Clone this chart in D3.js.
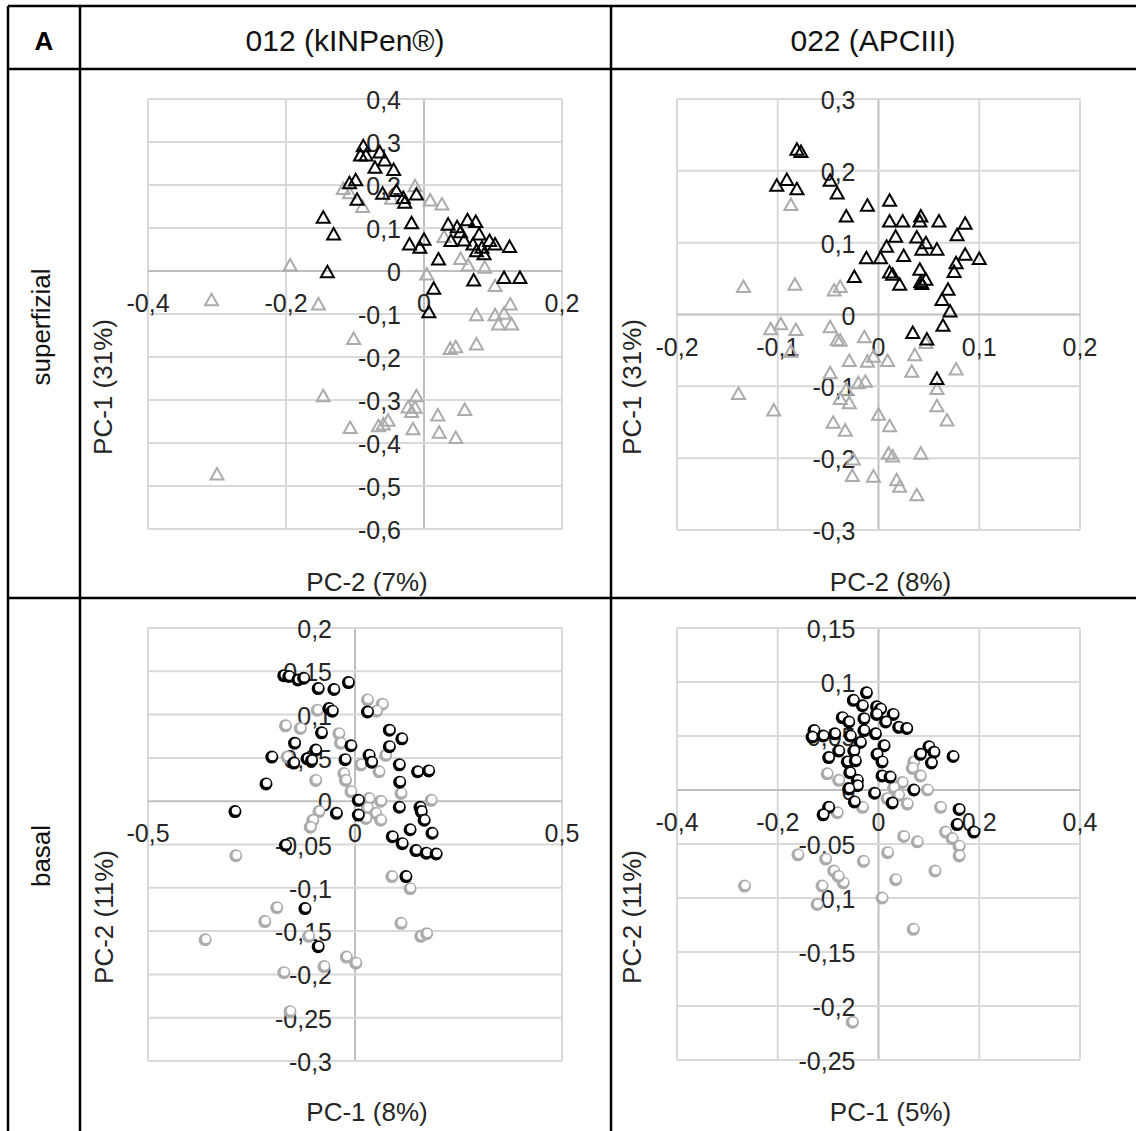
<!DOCTYPE html>
<html>
<head>
<meta charset="utf-8">
<script src="https://cdn.jsdelivr.net/npm/d3@7"></script>
<style>
  body { margin: 0; background: #fff; }
  text { font-family: "Liberation Sans", Arial, sans-serif; }
</style>
</head>
<body>
<div id="chart"></div>
<script>
// ---- data ----
// superfizial, 012 (kINPen) : [PC-2, PC-1]
const sup012Black = [[-0.088,0.291],[-0.092,0.270],[-0.084,0.270],[-0.064,0.277],[-0.057,0.258],[-0.071,0.241],[-0.044,0.236],[-0.108,0.205],[-0.099,0.212],[-0.060,0.181],[-0.040,0.187],[-0.030,0.171],[-0.028,0.160],[-0.011,0.179],[-0.097,0.167],[-0.146,0.125],[-0.131,0.086],[-0.018,0.112],[-0.021,0.063],[-0.006,0.055],[0.000,0.074],[0.021,0.028],[-0.140,-0.002],[0.035,0.109],[0.048,0.103],[0.063,0.119],[0.075,0.115],[0.053,0.091],[0.039,0.071],[0.058,0.072],[0.080,0.086],[0.071,0.063],[0.084,0.055],[0.095,0.071],[0.103,0.063],[0.076,0.047],[0.087,0.040],[0.124,0.057],[0.072,-0.021],[0.116,-0.015],[0.139,-0.015],[0.014,-0.040],[0.007,-0.095]];
const sup012Gray = [[-0.117,0.192],[-0.108,0.182],[-0.089,0.150],[-0.047,0.169],[-0.013,0.198],[0.009,0.165],[0.026,0.156],[-0.194,0.014],[-0.308,-0.067],[-0.153,-0.077],[0.004,-0.007],[0.029,0.080],[0.053,0.029],[0.064,0.014],[0.088,0.009],[0.103,-0.034],[0.125,-0.077],[0.076,-0.102],[0.103,-0.102],[0.116,-0.098],[0.108,-0.123],[0.127,-0.123],[-0.102,-0.157],[0.076,-0.170],[0.038,-0.180],[0.046,-0.176],[-0.146,-0.290],[-0.011,-0.290],[-0.023,-0.316],[-0.013,-0.317],[-0.018,-0.327],[-0.052,-0.347],[-0.059,-0.356],[-0.066,-0.360],[-0.107,-0.364],[-0.016,-0.367],[0.020,-0.335],[0.059,-0.322],[0.022,-0.375],[0.046,-0.387],[-0.300,-0.472]];

// superfizial, 022 (APCIII)
const sup022Black = [[-0.081,0.230],[-0.077,0.227],[-0.101,0.180],[-0.091,0.188],[-0.081,0.175],[-0.048,0.187],[-0.041,0.169],[-0.032,0.137],[-0.011,0.152],[0.011,0.159],[0.011,0.130],[0.024,0.130],[0.042,0.137],[0.041,0.130],[0.060,0.130],[0.086,0.127],[0.017,0.109],[0.038,0.108],[0.078,0.111],[0.008,0.095],[0.047,0.100],[0.043,0.091],[0.058,0.091],[-0.012,0.079],[0.002,0.079],[0.025,0.082],[0.086,0.084],[0.100,0.078],[0.077,0.072],[0.075,0.060],[-0.024,0.053],[0.011,0.059],[0.014,0.056],[0.021,0.042],[0.041,0.063],[0.042,0.046],[0.047,0.049],[0.043,0.043],[0.069,0.035],[0.063,0.021],[0.071,0.005],[0.064,-0.015],[0.034,-0.025],[0.048,-0.034],[0.058,-0.089]];
const sup022Gray = [[-0.087,0.153],[-0.134,0.039],[-0.083,0.042],[-0.044,0.034],[-0.038,0.039],[-0.107,-0.020],[-0.097,-0.013],[-0.082,-0.021],[-0.087,-0.051],[-0.048,-0.017],[-0.041,-0.035],[-0.038,-0.036],[-0.014,-0.031],[-0.029,-0.064],[-0.011,-0.065],[-0.005,-0.058],[0.009,-0.064],[0.036,-0.056],[0.033,-0.079],[0.047,-0.039],[0.077,-0.076],[-0.048,-0.081],[-0.020,-0.095],[-0.013,-0.093],[-0.032,-0.104],[-0.038,-0.117],[-0.029,-0.123],[-0.139,-0.110],[-0.104,-0.133],[0.058,-0.103],[0.058,-0.127],[0.068,-0.147],[0.000,-0.139],[0.011,-0.155],[-0.045,-0.150],[-0.033,-0.161],[0.010,-0.193],[0.014,-0.197],[0.042,-0.193],[-0.025,-0.201],[-0.026,-0.224],[-0.005,-0.225],[0.018,-0.230],[0.021,-0.239],[0.038,-0.251]];

// basal, 012 (kINPen) : [PC-1, PC-2]
const bas012Black = [[-0.172,0.145],[-0.160,0.144],[-0.138,0.140],[-0.124,0.142],[-0.089,0.130],[-0.051,0.129],[-0.016,0.137],[-0.063,0.107],[-0.055,0.104],[0.030,0.103],[-0.081,0.079],[0.083,0.082],[0.113,0.072],[-0.146,0.067],[-0.095,0.059],[-0.010,0.064],[0.083,0.063],[-0.201,0.051],[-0.148,0.044],[-0.116,0.049],[-0.105,0.047],[-0.024,0.048],[0.034,0.053],[0.040,0.045],[0.107,0.042],[0.151,0.034],[0.178,0.035],[0.108,0.022],[-0.215,0.020],[0.008,0.001],[0.008,-0.016],[-0.045,-0.014],[-0.290,-0.012],[0.107,-0.007],[0.157,-0.007],[0.160,-0.012],[0.167,-0.022],[0.133,-0.033],[0.186,-0.037],[0.090,-0.041],[0.114,-0.049],[0.147,-0.057],[0.172,-0.060],[0.196,-0.061],[-0.168,-0.051],[0.123,-0.087],[-0.121,-0.124],[-0.089,-0.168]];
const bas012Gray = [[0.030,0.117],[0.066,0.112],[0.052,0.104],[-0.091,0.105],[-0.168,0.087],[-0.132,0.084],[-0.039,0.078],[-0.035,0.067],[-0.164,0.051],[0.074,0.053],[-0.027,0.032],[-0.023,0.024],[0.014,0.042],[0.058,0.034],[-0.095,0.024],[-0.010,0.011],[0.034,0.003],[0.062,0.000],[0.111,0.009],[0.184,0.001],[0.030,-0.008],[0.050,-0.014],[0.062,-0.022],[0.026,-0.020],[-0.087,-0.012],[-0.102,-0.022],[-0.108,-0.030],[-0.288,-0.063],[0.089,-0.087],[0.133,-0.101],[-0.189,-0.123],[-0.218,-0.139],[-0.362,-0.160],[-0.112,-0.156],[0.111,-0.141],[0.159,-0.156],[0.173,-0.153],[-0.021,-0.180],[0.002,-0.187],[-0.172,-0.198],[-0.075,-0.191],[-0.157,-0.243]];

// basal, 022 (APCIII)
const bas022Black = [[-0.024,0.090],[-0.050,0.083],[-0.032,0.078],[-0.004,0.077],[0.004,0.075],[0.029,0.070],[-0.072,0.067],[-0.059,0.063],[-0.029,0.066],[-0.004,0.070],[0.014,0.063],[0.040,0.058],[0.056,0.057],[-0.128,0.055],[-0.132,0.049],[-0.110,0.050],[-0.087,0.052],[-0.056,0.050],[-0.029,0.055],[-0.006,0.052],[-0.036,0.044],[0.011,0.041],[-0.079,0.036],[-0.099,0.030],[-0.049,0.036],[-0.003,0.033],[0.100,0.040],[0.110,0.035],[0.083,0.033],[0.105,0.025],[0.148,0.031],[-0.062,0.026],[-0.046,0.027],[0.007,0.026],[-0.057,0.016],[0.007,0.013],[0.023,0.012],[-0.042,0.009],[-0.042,0.004],[-0.059,0.001],[0.070,0.000],[-0.008,-0.003],[-0.048,-0.011],[0.027,-0.012],[-0.099,-0.016],[-0.110,-0.023],[0.160,-0.018],[0.156,-0.032],[0.189,-0.039]];
const bas022Gray = [[0.070,0.026],[0.067,0.020],[0.083,0.013],[-0.102,0.015],[-0.079,0.009],[0.047,0.007],[0.097,0.000],[0.030,0.002],[0.040,-0.005],[0.057,-0.013],[0.017,-0.008],[-0.032,-0.016],[-0.082,-0.021],[0.123,-0.016],[0.050,-0.043],[0.077,-0.048],[0.133,-0.039],[0.146,-0.045],[0.160,-0.052],[0.160,-0.061],[-0.160,-0.060],[-0.105,-0.064],[-0.089,-0.075],[-0.030,-0.066],[0.018,-0.058],[0.112,-0.075],[0.034,-0.083],[-0.266,-0.089],[-0.112,-0.089],[-0.070,-0.086],[-0.080,-0.080],[-0.122,-0.106],[0.007,-0.100],[0.069,-0.129],[-0.052,-0.215]];

// ticks
const xTicksSup012 = [-0.4, -0.2, 0, 0.2];
const yTicksSup012 = [-0.6, -0.5, -0.4, -0.3, -0.2, -0.1, 0, 0.1, 0.2, 0.3, 0.4];
const xTicksSup022 = [-0.2, -0.1, 0, 0.1, 0.2];
const yTicksSup022 = [-0.3, -0.2, -0.1, 0, 0.1, 0.2, 0.3];
const xTicksBas012 = [-0.5, 0, 0.5];
const yTicksBas012 = [-0.3, -0.25, -0.2, -0.15, -0.1, -0.05, 0, 0.05, 0.1, 0.15, 0.2];
const xTicksBas022 = [-0.4, -0.2, 0, 0.2, 0.4];
const yTicksBas022 = [-0.25, -0.2, -0.15, -0.1, -0.05, 0, 0.05, 0.1, 0.15];

const colHeaders = ["012 (kINPen®)", "022 (APCIII)"];
const rowHeaders = ["superfizial", "basal"];

// ---- layout ----
const width = 1136, height = 1131;
const svg = d3.select("#chart").append("svg")
    .attr("width", width)
    .attr("height", height);

const fmt = v => {
  const s = String(+v.toFixed(2));
  return (s === "-0" ? "0" : s).replace(".", ",");
};

const panels = [
  { left: 148, right: 562, top: 99, bottom: 529, xd: [-0.4, 0.2], yd: [-0.6, 0.4],
    xt: xTicksSup012, yt: yTicksSup012, black: sup012Black, gray: sup012Gray, marker: "tri",
    xTitle: "PC-2 (7%)", yTitle: "PC-1 (31%)", xTitleY: 582, yTitleX: 103, yTitleY: 387 },
  { left: 677, right: 1080, top: 99, bottom: 530, xd: [-0.2, 0.2], yd: [-0.3, 0.3],
    xt: xTicksSup022, yt: yTicksSup022, black: sup022Black, gray: sup022Gray, marker: "tri",
    xTitle: "PC-2 (8%)", yTitle: "PC-1 (31%)", xTitleY: 582, yTitleX: 632, yTitleY: 387 },
  { left: 148, right: 562, top: 628, bottom: 1061, xd: [-0.5, 0.5], yd: [-0.3, 0.2],
    xt: xTicksBas012, yt: yTicksBas012, black: bas012Black, gray: bas012Gray, marker: "circ",
    xTitle: "PC-1 (8%)", yTitle: "PC-2 (11%)", xTitleY: 1112, yTitleX: 104, yTitleY: 917 },
  { left: 677, right: 1080, top: 628, bottom: 1060, xd: [-0.4, 0.4], yd: [-0.25, 0.15],
    xt: xTicksBas022, yt: yTicksBas022, black: bas022Black, gray: bas022Gray, marker: "circ",
    xTitle: "PC-1 (5%)", yTitle: "PC-2 (11%)", xTitleY: 1112, yTitleX: 632, yTitleY: 917 }
];

const gridColor = "#d9d9d9";
const axisColor = "#bfbfbf";
const grayMark = "#ababab";

panels.forEach(p => {
  const x = d3.scaleLinear().domain(p.xd).range([p.left, p.right]);
  const y = d3.scaleLinear().domain(p.yd).range([p.bottom, p.top]);
  const g = svg.append("g");

  // gridlines
  g.selectAll(".vg").data(p.xt).join("line")
      .attr("x1", d => x(d)).attr("x2", d => x(d))
      .attr("y1", p.top).attr("y2", p.bottom)
      .attr("stroke", d => d === 0 ? axisColor : gridColor)
      .attr("stroke-width", 2);
  g.selectAll(".hg").data(p.yt).join("line")
      .attr("y1", d => y(d)).attr("y2", d => y(d))
      .attr("x1", p.left).attr("x2", p.right)
      .attr("stroke", d => d === 0 ? axisColor : gridColor)
      .attr("stroke-width", 2);

  // tick labels along the zero axes
  g.selectAll(".xl").data(p.xt).join("text")
      .attr("x", d => x(d)).attr("y", y(0) + 32)
      .attr("text-anchor", "middle").attr("dominant-baseline", "central")
      .attr("font-size", 25).attr("fill", "#262626")
      .text(fmt);
  g.selectAll(".yl").data(p.yt).join("text")
      .attr("x", x(0) - 23).attr("y", d => y(d) + 1)
      .attr("text-anchor", "end").attr("dominant-baseline", "central")
      .attr("font-size", 25).attr("fill", "#262626")
      .text(fmt);

  // markers
  const series = [{ data: p.gray, color: grayMark }, { data: p.black, color: "#000" }];
  series.forEach(s => {
    if (p.marker === "tri") {
      g.append("g").selectAll("path").data(s.data).join("path")
          .attr("transform", d => `translate(${x(d[0])},${y(d[1])})`)
          .attr("d", "M0,-6L6.5,5.5L-6.5,5.5Z")
          .attr("fill", "none")
          .attr("stroke", s.color)
          .attr("stroke-width", 2)
          .attr("stroke-linejoin", "miter");
    } else {
      const m = g.append("g").selectAll("g").data(s.data).join("g")
          .attr("transform", d => `translate(${x(d[0])},${y(d[1])})`);
      m.append("circle").attr("r", 6.5).attr("fill", s.color);
      m.append("circle").attr("cx", 0.8).attr("cy", -0.8).attr("r", 4).attr("fill", "#fff");
    }
  });

  // axis titles
  g.append("text")
      .attr("x", (p.left + p.right) / 2 + 12).attr("y", p.xTitleY)
      .attr("text-anchor", "middle").attr("dominant-baseline", "central")
      .attr("font-size", 26).attr("fill", "#262626")
      .text(p.xTitle);
  g.append("text")
      .attr("transform", `translate(${p.yTitleX},${p.yTitleY}) rotate(-90)`)
      .attr("text-anchor", "middle").attr("dominant-baseline", "central")
      .attr("font-size", 26).attr("fill", "#262626")
      .text(p.yTitle);
});

// ---- table frame ----
const frame = svg.append("g").attr("stroke", "#000").attr("stroke-width", 2.5);
frame.append("line").attr("x1", 8).attr("x2", width).attr("y1", 6).attr("y2", 6);
frame.append("line").attr("x1", 8).attr("x2", width).attr("y1", 69).attr("y2", 69);
frame.append("line").attr("x1", 8).attr("x2", width).attr("y1", 598).attr("y2", 598);
[8, 80, 611].forEach(cx => {
  frame.append("line").attr("x1", cx).attr("x2", cx).attr("y1", 6).attr("y2", height);
});

svg.append("text")
    .attr("x", 44).attr("y", 50)
    .attr("text-anchor", "middle")
    .attr("font-size", 26).attr("font-weight", "bold")
    .text("A");

svg.selectAll(".colh").data(colHeaders).join("text")
    .attr("x", (d, i) => i === 0 ? 345 : 873)
    .attr("y", 51)
    .attr("text-anchor", "middle")
    .attr("font-size", 30).attr("fill", "#111")
    .text(d => d);

svg.selectAll(".rowh").data(rowHeaders).join("text")
    .attr("transform", (d, i) => `translate(41,${i === 0 ? 327 : 856}) rotate(-90)`)
    .attr("text-anchor", "middle").attr("dominant-baseline", "central")
    .attr("font-size", 26).attr("fill", "#111")
    .text(d => d);
</script>
</body>
</html>
